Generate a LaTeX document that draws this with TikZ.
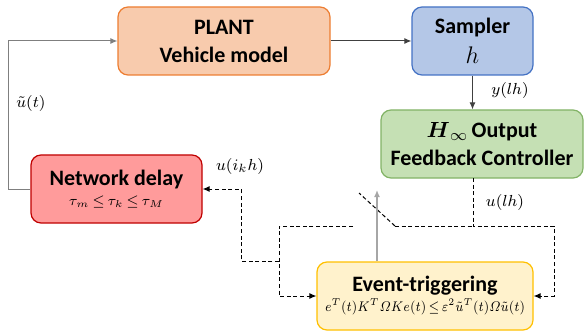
\documentclass[tikz,border=0pt]{standalone}
\usepackage{amsmath}
\usepackage{graphicx}
\usepackage{fontspec}
\setmainfont{Carlito}
\usetikzlibrary{arrows.meta}
\definecolor{plantfill}{HTML}{F8CBAD}
\definecolor{plantdraw}{HTML}{ED7D31}
\definecolor{sampfill}{HTML}{B4C7E7}
\definecolor{sampdraw}{HTML}{4472C4}
\definecolor{ctrlfill}{HTML}{C5E0B4}
\definecolor{ctrldraw}{HTML}{82B366}
\definecolor{netfill}{HTML}{FF9B9B}
\definecolor{netdraw}{HTML}{C00000}
\definecolor{evfill}{HTML}{FFF2CC}
\definecolor{evdraw}{HTML}{FFC000}
\definecolor{lineclr}{HTML}{404040}
\definecolor{loopclr}{HTML}{7F7F7F}
\definecolor{trigclr}{HTML}{A6A6A6}
\begin{document}
\begin{tikzpicture}[x=0.5pt,y=-0.5pt,
  blk/.style={draw, rounded corners=5pt, line width=0.6pt, align=center, inner sep=0pt,
    font=\fontsize{11}{14}\selectfont\bfseries, minimum height=34pt},
  tip/.style={-{Latex[length=3.5pt,width=3pt]}},
  conn/.style={lineclr, line width=0.5pt, tip},
  loopline/.style={loopclr, line width=0.5pt, tip},
  dsh/.style={black, line width=0.5pt, dash pattern=on 2pt off 1.3pt},
  lbl/.style={font=\fontsize{8}{9}\selectfont, inner sep=0pt}
]
\useasboundingbox (0,0) rectangle (587,331);

\node[blk, fill=plantfill, draw=plantdraw, minimum width=106pt] (plant) at (224,41) {PLANT\\Vehicle model};
\node[blk, fill=sampfill, draw=sampdraw, minimum width=60.5pt] (samp) at (472.5,41) {Sampler\\[1pt]{\fontsize{12}{12}\selectfont$h$}};
\node[blk, fill=ctrlfill, draw=ctrldraw, minimum width=101pt] (ctrl) at (482,144) {{\fontsize{11}{12}\selectfont$\boldsymbol{H}_{\infty}$\,}Output\\Feedback Controller};
\node[blk, fill=netfill, draw=netdraw, minimum width=85.5pt] (net) at (116.5,189) {Network delay\\[-4pt]\mbox{\fontsize{7.2}{9}\selectfont\mdseries\thickmuskip=3mu$\tau_m\leq\tau_k\leq\tau_M$}};
\node[blk, fill=evfill, draw=evdraw, minimum width=108pt] (ev) at (425,296) {Event-triggering\\[-4pt]\resizebox{100pt}{\height}{\fontsize{6.9}{9}\selectfont\mdseries\thickmuskip=3mu$e^T(t)K^T\varOmega Ke(t)\leq\varepsilon^2\tilde{u}^T(t)\varOmega\tilde{u}(t)$}};

% solid connectors
\draw[conn] (plant.east) -- (samp.west);
\draw[conn] (samp.south) -- (samp.south |- ctrl.north);
\draw[loopline] (net.west) -- ++(-22,0) |- (plant.west);

% dashed network
\coordinate (cu) at (473,178);
\coordinate (swR) at (473,226);
\coordinate (rc) at (554,226);
\coordinate (swA) at (395,226);
\coordinate (swB) at (359,193);
\coordinate (swL) at (353,226);
\coordinate (lc) at (279,226);
\coordinate (br) at (279,261);
\coordinate (bl) at (241,261);
\coordinate (trig) at (377,190);

\draw[dsh, tip] (cu) -- (swR) -- (rc) |- (ev.east);
\draw[dsh] (swA) -- (swR);
\draw[dsh] (swA) -- (swB);
\draw[dsh, tip] (swL) -- (lc) |- (ev.west);
\draw[dsh, tip] (br) -- (bl) |- (net.east);

\draw[trigclr, line width=0.8pt, tip] (trig |- ev.north) -- (trig);

% labels
\node[lbl] (l1) at (31,104) {$\tilde{u}(t)$};
\node[lbl] (l2) at (510,91) {$y(lh)$};
\node[lbl] (l3) at (240,166) {$u(i_kh)$};
\node[lbl] (l4) at (505,202) {$u(lh)$};
\end{tikzpicture}
\end{document}
